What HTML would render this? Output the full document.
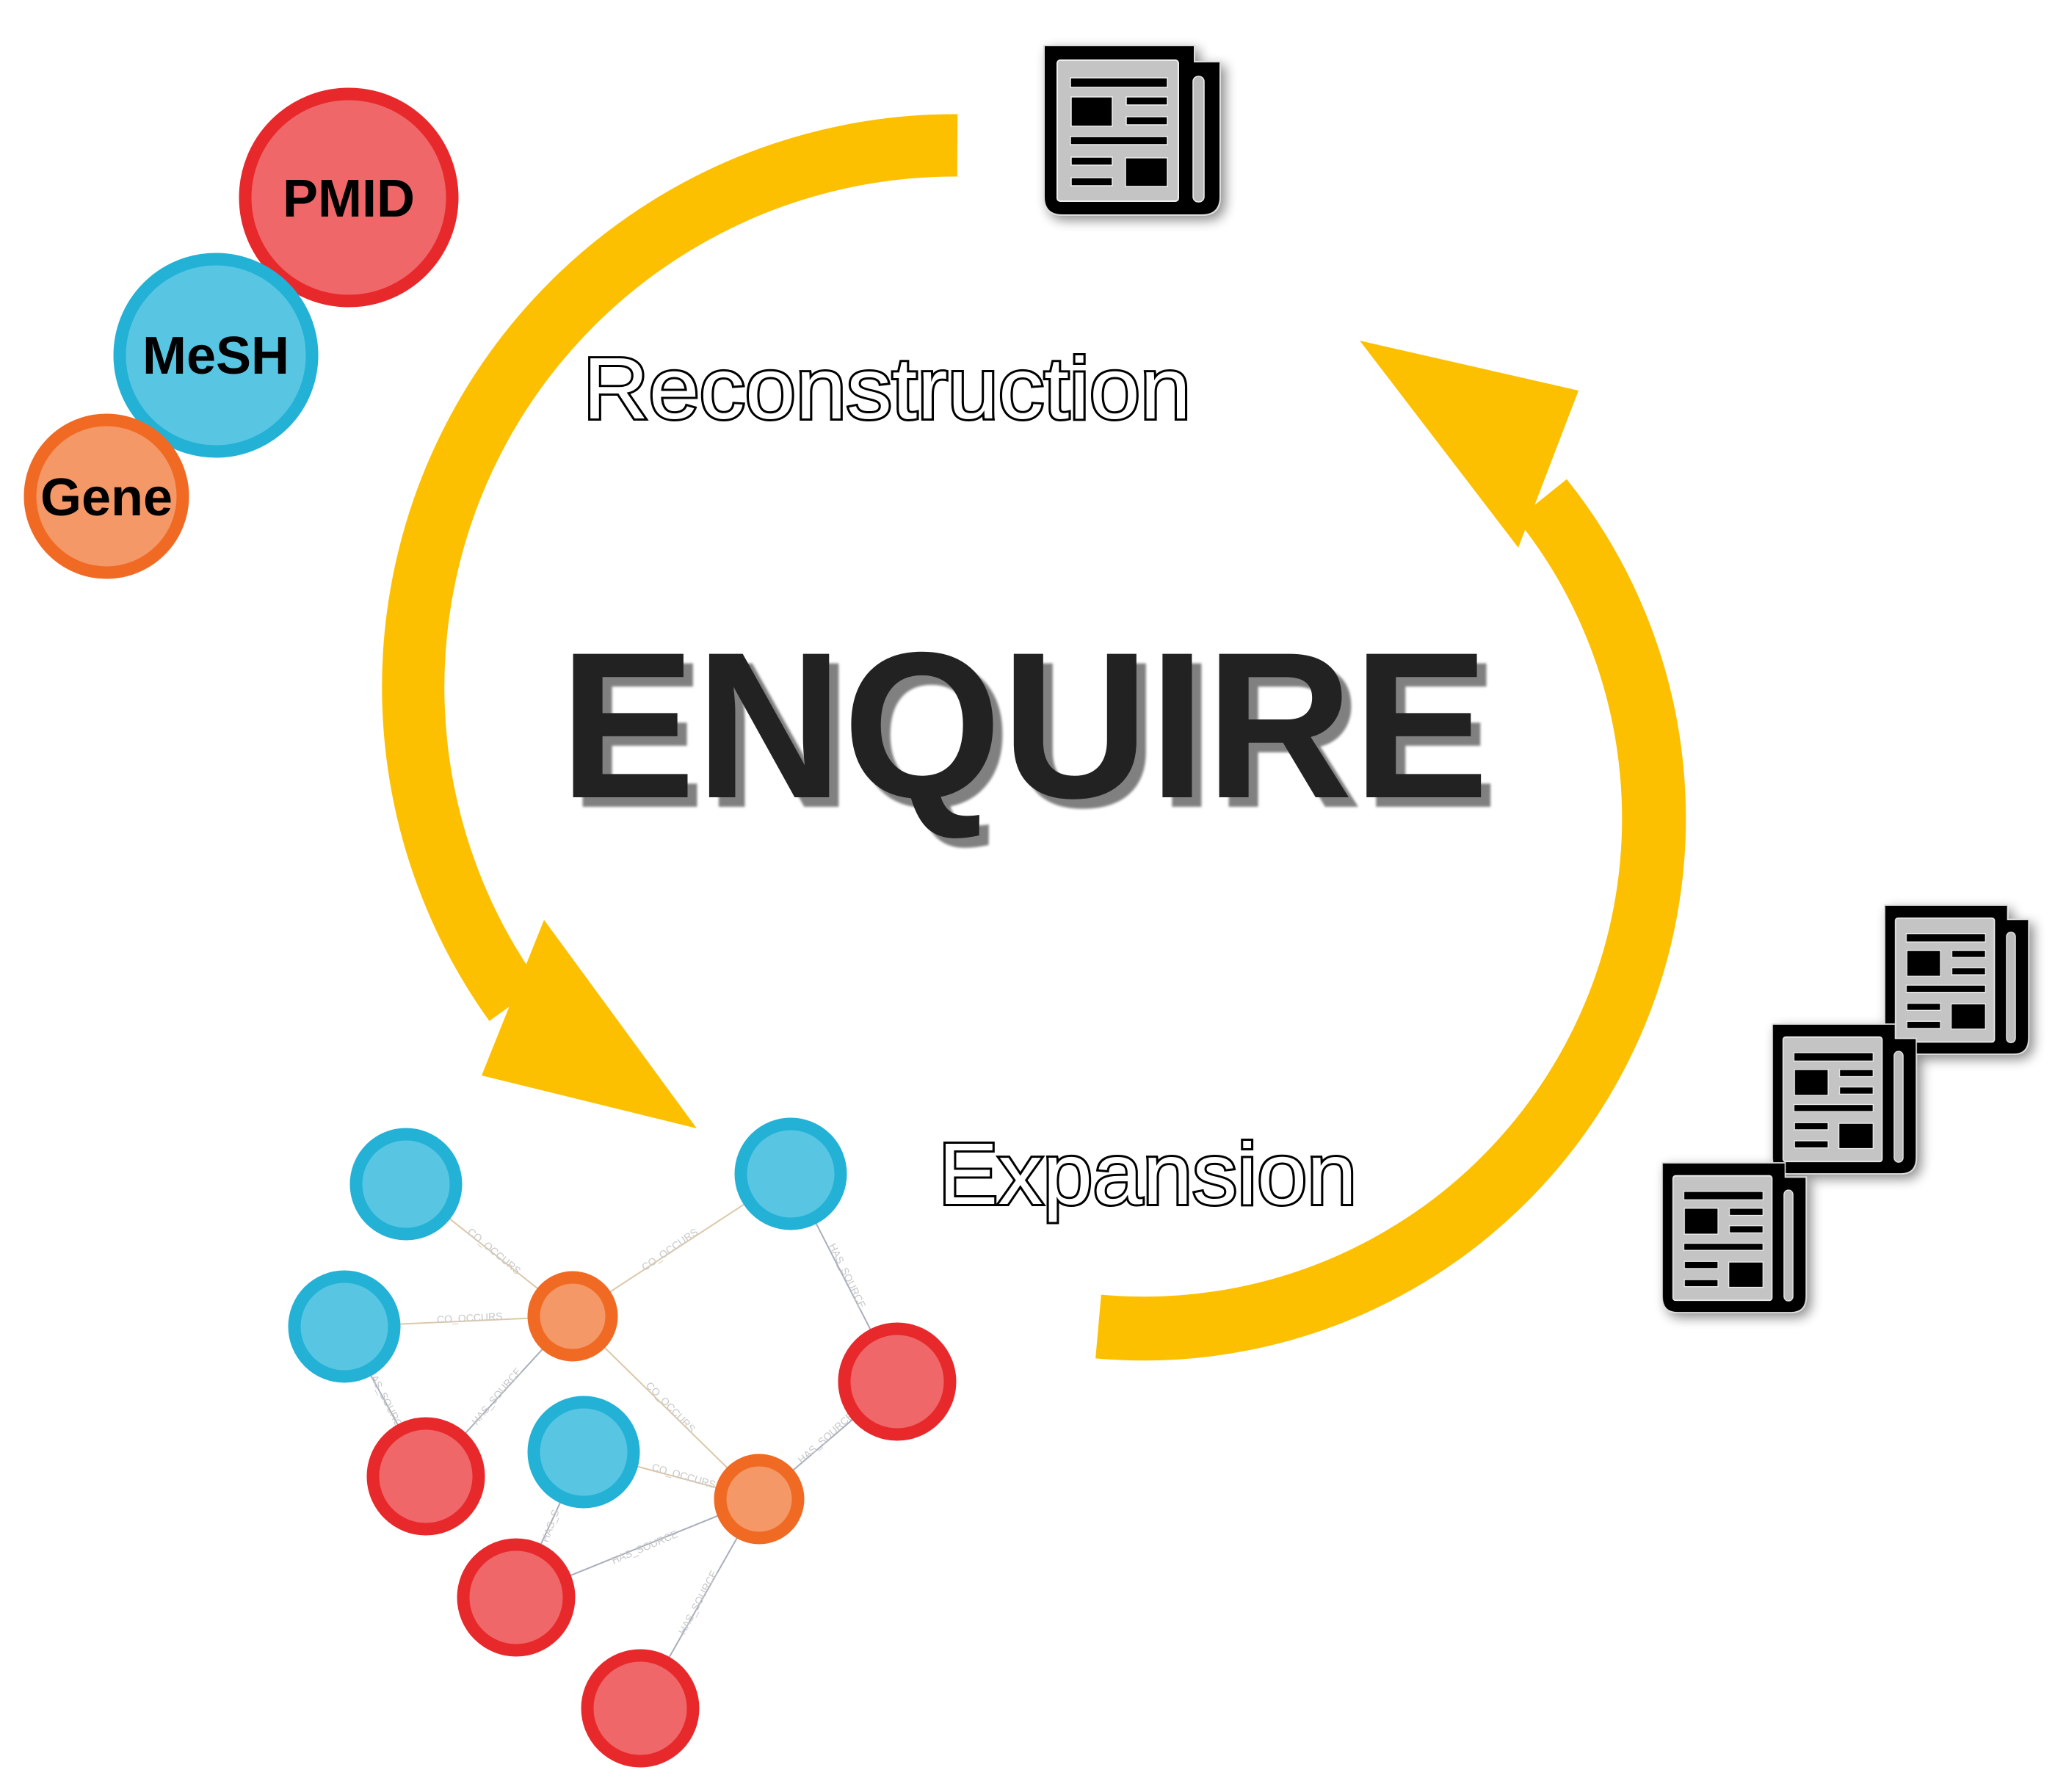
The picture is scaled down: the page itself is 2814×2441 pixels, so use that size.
<!DOCTYPE html>
<html><head><meta charset="utf-8"><style>
html,body{margin:0;padding:0;background:#fff;}
svg{display:block;}
</style></head><body>
<svg width="2814" height="2441" viewBox="0 0 2814 2441" xmlns="http://www.w3.org/2000/svg">
<defs>
<filter id="sh" x="-20%" y="-20%" width="150%" height="150%"><feGaussianBlur in="SourceAlpha" stdDeviation="8"/><feOffset dx="6" dy="6"/><feComponentTransfer><feFuncA type="linear" slope="0.45"/></feComponentTransfer><feMerge><feMergeNode/><feMergeNode in="SourceGraphic"/></feMerge></filter>
<filter id="tsh" x="-5%" y="-5%" width="115%" height="120%"><feGaussianBlur stdDeviation="1.5"/></filter>
<g id="paper">
<path d="M0 0 H205 V22 H240 V206 Q240 231 215 231 H25 Q0 231 0 206 Z" fill="#000" stroke="#ddd" stroke-width="2"/>
<rect x="18" y="20" width="165" height="192" rx="4" fill="#c4c4c4" stroke="#eee" stroke-width="2"/>
<rect x="203" y="42" width="15" height="171" rx="7" fill="#bbb" stroke="#eee" stroke-width="1.5"/>
<g fill="#000" stroke="#eee" stroke-width="1.5">
<rect x="36" y="44" width="132" height="13"/>
<rect x="37" y="70" width="56" height="40"/>
<rect x="112" y="70" width="56" height="11"/>
<rect x="112" y="97" width="56" height="11"/>
<rect x="36" y="124" width="132" height="11"/>
<rect x="37" y="152" width="56" height="11"/>
<rect x="37" y="180" width="56" height="11"/>
<rect x="111" y="153" width="57" height="39"/>
</g>
</g>
</defs>

<!-- arrows -->
<path d="M1304 198 A738 738 0 0 0 701 1366" fill="none" stroke="#FDC000" stroke-width="85"/>
<polygon points="656,1465 949,1537 741,1253" fill="#FDC000"/>
<path d="M1496 1807 A695 695 0 0 0 2100 680" fill="none" stroke="#FDC000" stroke-width="87"/>
<polygon points="1852,464 2150,532 2068,746" fill="#FDC000"/>

<!-- left legend circles -->
<g font-family="Liberation Sans, sans-serif" font-weight="bold" font-size="72" text-anchor="middle" fill="#000">
<circle cx="475" cy="269" r="141" fill="#F0676A" stroke="#E8292B" stroke-width="17"/>
<text x="475" y="295">PMID</text>
<circle cx="294" cy="484" r="131" fill="#58C6E3" stroke="#23B1D6" stroke-width="17"/>
<text x="294" y="509">MeSH</text>
<circle cx="145" cy="676" r="104" fill="#F59868" stroke="#F06A24" stroke-width="17"/>
<text x="145" y="702">Gene</text>
</g>

<!-- texts -->
<text x="794" y="570" font-family="Liberation Sans, sans-serif" font-size="119" textLength="828" lengthAdjust="spacingAndGlyphs" fill="#fff" stroke="#000" stroke-width="6" paint-order="stroke">Reconstruction</text>
<text x="1278" y="1640" font-family="Liberation Sans, sans-serif" font-size="119" textLength="570" lengthAdjust="spacingAndGlyphs" fill="#fff" stroke="#000" stroke-width="6" paint-order="stroke">Expansion</text>
<text x="775" y="1099" font-family="Liberation Sans, sans-serif" font-weight="bold" font-size="284" textLength="1266" lengthAdjust="spacingAndGlyphs" fill="#808080" filter="url(#tsh)">ENQUIRE</text>
<text x="762" y="1086" font-family="Liberation Sans, sans-serif" font-weight="bold" font-size="284" textLength="1266" lengthAdjust="spacingAndGlyphs" fill="#222">ENQUIRE</text>

<!-- newspapers -->
<g filter="url(#sh)">
<use href="#paper" transform="translate(1422,62)"/>
<use href="#paper" transform="translate(2567,1233) scale(0.817,0.879)"/>
<use href="#paper" transform="translate(2414,1395) scale(0.817,0.883)"/>
<use href="#paper" transform="translate(2264,1584) scale(0.817,0.883)"/>
</g>

<!-- graph edges -->
<g stroke-width="2" fill="none">
<g stroke="#DCC8A8">
<line x1="553" y1="1613" x2="780" y2="1793"/>
<line x1="469" y1="1807" x2="780" y2="1793"/>
<line x1="1077" y1="1599" x2="780" y2="1793"/>
<line x1="780" y1="1793" x2="1034" y2="2042"/>
<line x1="795" y1="1978" x2="1034" y2="2042"/>
</g>
<g stroke="#A8AEBC">
<line x1="1077" y1="1599" x2="1222" y2="1882"/>
<line x1="469" y1="1807" x2="580" y2="2011"/>
<line x1="780" y1="1793" x2="580" y2="2011"/>
<line x1="1034" y1="2042" x2="1222" y2="1882"/>
<line x1="1034" y1="2042" x2="703" y2="2176"/>
<line x1="795" y1="1978" x2="703" y2="2176"/>
<line x1="1034" y1="2042" x2="872" y2="2327"/>
</g>
</g>
<g font-family="Liberation Sans, sans-serif" font-size="14" fill="#c8c8c8" text-anchor="middle">
<text transform="translate(670,1708) rotate(40)">CO_OCCURS</text>
<text transform="translate(640,1800) rotate(-3)">CO_OCCURS</text>
<text transform="translate(915,1706) rotate(-35)">CO_OCCURS</text>
<text transform="translate(910,1920) rotate(46)">CO_OCCURS</text>
<text transform="translate(930,2015) rotate(16)">CO_OCCURS</text>
<text transform="translate(1150,1740) rotate(64)">HAS_SOURCE</text>
<text transform="translate(522,1910) rotate(63)">HAS_SOURCE</text>
<text transform="translate(680,1905) rotate(-50)">HAS_SOURCE</text>
<text transform="translate(1128,1962) rotate(-42)">HAS_SOURCE</text>
<text transform="translate(880,2112) rotate(-23)">HAS_SOURCE</text>
<text transform="translate(754,2080) rotate(-70)">HAS_S</text>
<text transform="translate(955,2185) rotate(-62)">HAS_SOURCE</text>
</g>

<!-- graph nodes -->
<g stroke-width="17">
<circle cx="553" cy="1613" r="68" fill="#58C6E3" stroke="#23B1D6"/>
<circle cx="1077" cy="1599" r="68" fill="#58C6E3" stroke="#23B1D6"/>
<circle cx="469" cy="1807" r="68" fill="#58C6E3" stroke="#23B1D6"/>
<circle cx="795" cy="1978" r="68" fill="#58C6E3" stroke="#23B1D6"/>
<circle cx="780" cy="1793" r="53" fill="#F59868" stroke="#F06A24"/>
<circle cx="1034" cy="2042" r="53" fill="#F59868" stroke="#F06A24"/>
<circle cx="1222" cy="1882" r="72" fill="#F0676A" stroke="#E8292B"/>
<circle cx="580" cy="2011" r="72" fill="#F0676A" stroke="#E8292B"/>
<circle cx="703" cy="2176" r="72" fill="#F0676A" stroke="#E8292B"/>
<circle cx="872" cy="2327" r="72" fill="#F0676A" stroke="#E8292B"/>
</g>
</svg>
</body></html>
